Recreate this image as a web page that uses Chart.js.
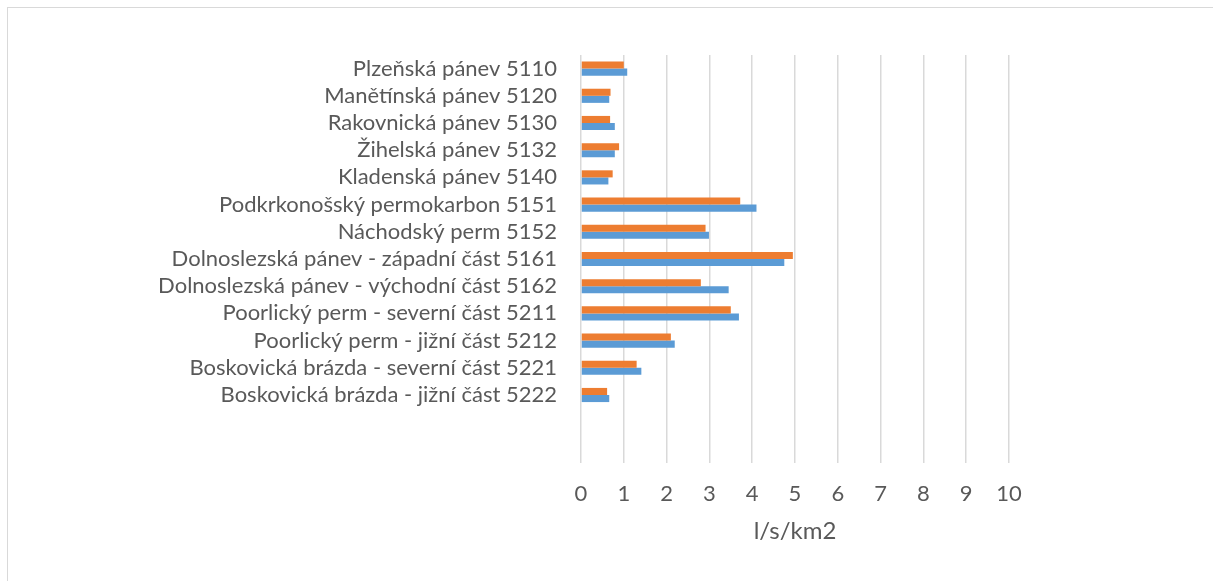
<!DOCTYPE html>
<html lang="cs">
  <head>
    <meta charset="UTF-8" />
    <title>Specifický odtok</title>
    <script src="https://cdn.jsdelivr.net/npm/chart.js@4.4.1/dist/chart.umd.min.js"></script>
    <style>
      body {
        margin: 0;
        background-color: white;
      }
      .frame {
        position: absolute;
        left: 7px;
        top: 7px;
        right: 0;
        bottom: 0;
        border-top: 1.5px solid #d9d9d9;
        border-left: 1.5px solid #d9d9d9;
      }
      .chart-container {
        position: absolute;
        left: 0;
        top: 0;
        width: 1213px;
        height: 581px;
      }
    </style>
  </head>
  <body>
    <div class="frame"></div>
    <div class="chart-container">
      <canvas id="myChart"></canvas>
    </div>

    <script>
      // two empty rows at the bottom, as in the original sheet
      const categories = [
        "Plzeňská pánev 5110",
        "Manětínská pánev 5120",
        "Rakovnická pánev 5130",
        "Žihelská pánev 5132",
        "Kladenská pánev 5140",
        "Podkrkonošský permokarbon 5151",
        "Náchodský perm 5152",
        "Dolnoslezská pánev - západní část 5161",
        "Dolnoslezská pánev - východní část 5162",
        "Poorlický perm - severní část 5211",
        "Poorlický perm - jižní část 5212",
        "Boskovická brázda - severní část 5221",
        "Boskovická brázda - jižní část 5222",
        "",
        "",
      ];
      const orangeValues = [1.0, 0.69, 0.68, 0.89, 0.74, 3.72, 2.91, 4.95, 2.8, 3.5, 2.1, 1.3, 0.61, null, null];
      const blueValues = [1.08, 0.66, 0.79, 0.79, 0.64, 4.1, 2.99, 4.75, 3.45, 3.69, 2.19, 1.41, 0.66, null, null];
      const xTicks = [0, 1, 2, 3, 4, 5, 6, 7, 8, 9, 10];
      const axisTitle = "l/s/km2";

      const textColor = "#595959";
      const fontFamily = "Lato, 'Open Sans', sans-serif";

      const ctx = document.getElementById("myChart").getContext("2d");
      const myChart = new Chart(ctx, {
        type: "bar",
        data: {
          labels: categories,
          datasets: [
            {
              data: orangeValues,
              backgroundColor: "#ed7d31",
              borderWidth: 0,
              categoryPercentage: 0.52,
              barPercentage: 1,
            },
            {
              data: blueValues,
              backgroundColor: "#5b9bd5",
              borderWidth: 0,
              categoryPercentage: 0.52,
              barPercentage: 1,
            },
          ],
        },
        options: {
          indexAxis: "y",
          responsive: true,
          maintainAspectRatio: false,
          animation: false,
          layout: {
            padding: { left: 0, right: 204, top: 55, bottom: 0 },
          },
          scales: {
            x: {
              min: xTicks[0],
              max: xTicks[xTicks.length - 1],
              afterBuildTicks: (scale) => {
                scale.ticks = xTicks.map((v) => ({ value: v }));
              },
              afterFit: (scale) => {
                scale.height = 118;
              },
              border: { display: false },
              grid: {
                color: "#d9d9d9",
                lineWidth: 1.5,
                drawTicks: false,
              },
              ticks: {
                color: textColor,
                padding: 18,
                font: { family: fontFamily, size: 22 },
              },
              title: {
                display: true,
                text: axisTitle,
                color: textColor,
                font: { family: fontFamily, size: 24 },
                padding: { top: 0, bottom: 35 },
              },
            },
            y: {
              afterFit: (scale) => {
                scale.width = 581;
              },
              border: { display: false },
              grid: { display: false, drawTicks: false },
              ticks: {
                color: textColor,
                padding: 24,
                autoSkip: false,
                font: { family: fontFamily, size: 22 },
              },
            },
          },
          plugins: {
            legend: { display: false },
            tooltip: { enabled: false },
          },
        },
      });
    </script>
  </body>
</html>
